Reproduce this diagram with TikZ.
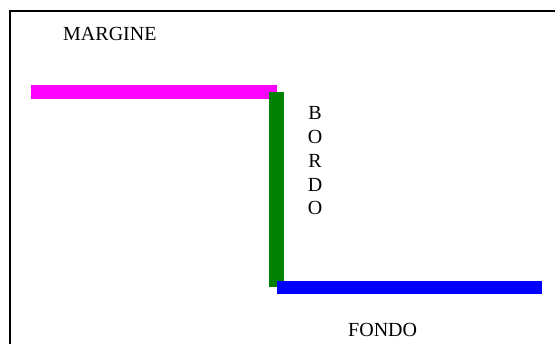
\documentclass[tikz,border=0pt]{standalone}
\usepackage{fontspec}
\setmainfont{Liberation Serif}
\definecolor{mag}{RGB}{255,0,255}
\definecolor{grn}{RGB}{0,128,0}
\definecolor{blu}{RGB}{0,0,255}
\begin{document}
\begin{tikzpicture}[x=1pt,y=-1pt,
  lbl/.style={inner sep=0pt,font=\fontsize{20}{24}\selectfont},
  letter/.style={lbl,anchor=base}]
\useasboundingbox (0,0) rectangle (555,344);
\clip (0,0) rectangle (555,344);
\fill[white] (0,0) rectangle (555,344);
\draw[line width=2pt] (10,400) -- (10,11) -- (600,11);
\fill[mag] (31,85) rectangle (277,99);
\fill[grn] (269,92) rectangle (284,287);
\fill[blu] (277,281) rectangle (542,294);
\node[lbl,anchor=base west] (margine) at (63,41) {MARGINE};
\node[letter] (b1) at (315,120) {B};
\node[letter] (b2) at (315,143.75) {O};
\node[letter] (b3) at (315,167.5) {R};
\node[letter] (b4) at (315,191.25) {D};
\node[letter] (b5) at (315,215) {O};
\node[lbl,anchor=base west] (fondo) at (348,337) {FONDO};
\end{tikzpicture}
\end{document}
